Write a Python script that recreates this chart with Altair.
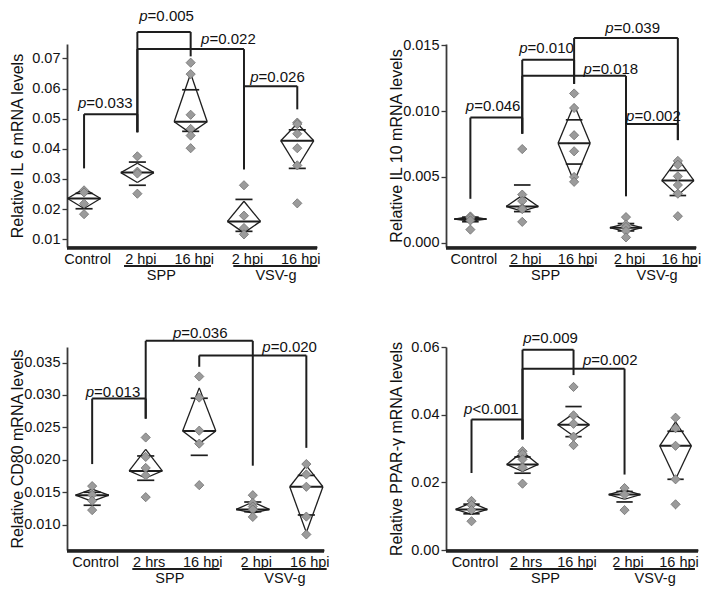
import altair as alt
import pandas as pd

FONT = "Liberation Sans"
LINE = "#1e1e1e"
AXIS = "#3a3a3a"

# ---------------- shared labels ----------------
cats_hpi = ["Control", "2 hpi", "16 hpi", "2 hpi", "16 hpi"]
cats_hrs = ["Control", "2 hrs", "16 hpi", "2 hpi", "16 hpi"]
group_names = ["SPP", "VSV-g"]
group_start = [1.75, 3.80]
group_end = [3.38, 5.38]
group_center = [2.45, 4.60]

# ---------------- IL 6 ----------------
il6_points = [
    [0.0262, 0.0255, 0.0218, 0.0183],
    [0.0375, 0.0324, 0.0318, 0.0251],
    [0.0686, 0.0648, 0.0513, 0.0466, 0.0444, 0.0402],
    [0.0279, 0.0178, 0.0137, 0.0116],
    [0.0487, 0.0482, 0.0450, 0.0402, 0.0345, 0.0219],
]
il6_top = [0.0268, 0.0352, 0.0650, 0.0226, 0.0484]
il6_mean = [0.0235, 0.0321, 0.0490, 0.0159, 0.0427]
il6_bottom = [0.0202, 0.0288, 0.0452, 0.0121, 0.0338]
il6_err_hi = [0.0252, 0.0356, 0.0596, 0.0232, 0.0463]
il6_err_lo = [0.0201, 0.0279, 0.0458, 0.0126, 0.0335]
# label, x1, x2, bar level, leg1 low, leg2 low, text x, text y
il6_brackets = [
    ("p=0.033", 1, 2, 0.0515, 0.0335, 0.0455, 1.38, 0.0553),
    ("p=0.005", 2, 3, 0.0788, 0.0455, 0.0707, 2.53, 0.0842),
    ("p=0.022", 2, 4, 0.0731, 0.0455, 0.0332, 3.69, 0.0765),
    ("p=0.026", 4, 5, 0.0608, 0.0332, 0.0531, 4.61, 0.0640),
]

# ---------------- IL 10 ----------------
il10_points = [
    [0.0020, 0.0019, 0.0017, 0.0010],
    [0.00712, 0.00366, 0.00317, 0.00262, 0.00256, 0.00159],
    [0.01134, 0.01024, 0.00817, 0.00695, 0.00500, 0.00463],
    [0.00195, 0.00139, 0.00120, 0.00090, 0.00041],
    [0.00622, 0.00593, 0.00505, 0.00439, 0.00373, 0.00202],
]
il10_top = [0.00200, 0.00360, 0.01050, 0.00146, 0.00640]
il10_mean = [0.00180, 0.00276, 0.00756, 0.00115, 0.00473]
il10_bottom = [0.00165, 0.00240, 0.00463, 0.00085, 0.00360]
il10_err_hi = [0.00195, 0.00439, 0.00934, 0.00146, 0.00549]
il10_err_lo = [0.00160, 0.00237, 0.00598, 0.00090, 0.00359]
il10_brackets = [
    ("p=0.046", 1, 2, 0.00951, 0.00334, 0.00829, 1.42, 0.01037),
    ("p=0.010", 2, 3, 0.01390, 0.00829, 0.01207, 2.45, 0.01476),
    ("p=0.018", 2, 4, 0.01268, 0.00829, 0.00354, 3.69, 0.01322),
    ("p=0.039", 3, 5, 0.01556, 0.01207, 0.00780, 4.11, 0.01634),
    ("p=0.002", 4, 5, 0.00902, 0.00354, 0.00780, 4.51, 0.00963),
]

# ---------------- CD80 ----------------
cd80_points = [
    [0.01595, 0.01460, 0.01370, 0.01225],
    [0.02345, 0.02045, 0.01875, 0.01760, 0.01425],
    [0.03285, 0.02960, 0.02450, 0.02250, 0.01610],
    [0.01455, 0.01335, 0.01280, 0.01235, 0.01120],
    [0.01935, 0.01775, 0.01585, 0.01125, 0.00850],
]
cd80_top = [0.01550, 0.02160, 0.03110, 0.01350, 0.01910]
cd80_mean = [0.01455, 0.01830, 0.02445, 0.01235, 0.01585]
cd80_bottom = [0.01360, 0.01720, 0.02250, 0.01180, 0.00880]
cd80_err_hi = [0.01500, 0.02060, 0.02950, 0.01350, 0.01760]
cd80_err_lo = [0.01300, 0.01685, 0.02070, 0.01200, 0.01150]
cd80_brackets = [
    ("p=0.013", 1, 2, 0.02945, 0.01935, 0.02635, 1.37, 0.03050),
    ("p=0.036", 2, 4, 0.03835, 0.02635, 0.01910, 3.00, 0.03960),
    ("p=0.020", 3, 5, 0.03610, 0.03435, 0.02185, 4.67, 0.03735),
]

# ---------------- PPAR-γ ----------------
ppar_points = [
    [0.0145, 0.0133, 0.0118, 0.0085],
    [0.0292, 0.0284, 0.0268, 0.0244, 0.0196],
    [0.0482, 0.0398, 0.0373, 0.0335, 0.0310],
    [0.0183, 0.0164, 0.0118],
    [0.0391, 0.0360, 0.0308, 0.0209, 0.0135],
]
ppar_top = [0.0140, 0.0290, 0.0403, 0.0178, 0.0379]
ppar_mean = [0.0120, 0.0253, 0.0370, 0.0164, 0.0308]
ppar_bottom = [0.0105, 0.0232, 0.0337, 0.0150, 0.0209]
ppar_err_hi = [0.01355, 0.0275, 0.0424, 0.0173, 0.0351]
ppar_err_lo = [0.0107, 0.0227, 0.0335, 0.0142, 0.0209]
ppar_brackets = [
    ("p<0.001", 1, 2, 0.0386, 0.02275, 0.0327, 1.37, 0.0417),
    ("p=0.009", 2, 3, 0.0592, 0.0327, 0.0517, 2.53, 0.0626),
    ("p=0.002", 2, 4, 0.0536, 0.0327, 0.0223, 3.70, 0.0561),
]

KITE_W = 0.31
CAP_W = 0.16


def make_panel(points, top, mean, bottom, err_hi, err_lo, brackets, cats,
               ytitle, ydomain, yticks, yfmt, xdomain, width, height):
    xs = alt.Scale(domain=xdomain, nice=False, zero=False)
    ys = alt.Scale(domain=ydomain, nice=False, zero=False)
    label_expr = "[" + ",".join(["''"] + ["'%s'" % c for c in cats]) + "][datum.value]"
    xaxis = alt.Axis(values=[1, 2, 3, 4, 5], labelExpr=label_expr, ticks=False,
                     domain=True, grid=False, labelFontSize=14.5, labelPadding=5,
                     labelOffset=3, domainColor=AXIS, domainWidth=1.8,
                     labelColor="#111")
    yaxis = alt.Axis(values=yticks, format=yfmt, grid=False, tickSize=5,
                     tickWidth=1.3, tickColor=AXIS, domain=True, domainColor=AXIS,
                     domainWidth=1.8, labelFontSize=14.5, labelPadding=2,
                     labelColor="#111", title=ytitle, titleFontSize=16,
                     titleFontWeight="normal", titleX=-42, titleColor="#111")

    def X(f):
        return alt.X(f + ":Q", scale=xs, axis=xaxis, title=None)

    def Y(f):
        return alt.Y(f + ":Q", scale=ys, axis=yaxis)

    pts = pd.DataFrame([{"x": i + 1, "v": v} for i, grp in enumerate(points) for v in grp])

    kite_rows, mean_rows, cap_rows, br_rows, txt_rows = [], [], [], [], []
    for i in range(5):
        x = i + 1
        t, m, b = top[i], mean[i], bottom[i]
        kite_rows += [
            {"x0": x - KITE_W, "x1": x, "y0": m, "y1": t},
            {"x0": x, "x1": x + KITE_W, "y0": t, "y1": m},
            {"x0": x + KITE_W, "x1": x, "y0": m, "y1": b},
            {"x0": x, "x1": x - KITE_W, "y0": b, "y1": m},
        ]
        mean_rows.append({"x0": x - KITE_W, "x1": x + KITE_W, "y0": m, "y1": m})
        cap_rows.append({"x0": x - CAP_W, "x1": x + CAP_W, "y0": err_hi[i], "y1": err_hi[i]})
        cap_rows.append({"x0": x - CAP_W, "x1": x + CAP_W, "y0": err_lo[i], "y1": err_lo[i]})
    for lab, x1, x2, h, l1, l2, tx, ty in brackets:
        br_rows += [
            {"x0": x1, "x1": x2, "y0": h, "y1": h},
            {"x0": x1, "x1": x1, "y0": l1, "y1": h},
            {"x0": x2, "x1": x2, "y0": l2, "y1": h},
        ]
        txt_rows.append({"tx": tx, "ty": ty, "p": lab[0], "rest": lab[1:]})

    def seg_layer(rows, sw):
        return alt.Chart(pd.DataFrame(rows)).mark_rule(color=LINE, strokeWidth=sw).encode(
            x=X("x0"), x2="x1", y=Y("y0"), y2="y1")

    kite = seg_layer(kite_rows, 1.3)
    means = seg_layer(mean_rows, 2.0)
    caps = seg_layer(cap_rows, 1.7)
    brs = seg_layer(br_rows, 2.0)

    # bottom axis line drawn just under the plot area
    base = alt.Chart(pd.DataFrame({"a": [xdomain[0]], "b": [xdomain[1]]})).mark_rule(
        color="#222222", strokeWidth=3.5).encode(x=X("a"), x2="b", y=alt.value(height + 1))

    dots = alt.Chart(pts).mark_point(shape="diamond", filled=True, size=85,
                                     fill="#9b9b9b", stroke="#707070",
                                     strokeWidth=0.8, opacity=1).encode(
        x=X("x"), y=Y("v"))

    tdf = pd.DataFrame(txt_rows)
    ptxt = alt.Chart(tdf).mark_text(font=FONT, fontSize=15, fontStyle="italic",
                                    align="right", baseline="middle", dx=-18,
                                    color="#111").encode(x=X("tx"), y=Y("ty"), text="p:N")
    rtxt = alt.Chart(tdf).mark_text(font=FONT, fontSize=15, align="left",
                                    baseline="middle", dx=-18,
                                    color="#111").encode(x=X("tx"), y=Y("ty"), text="rest:N")

    gdf = pd.DataFrame({"gs": group_start, "ge": group_end,
                        "gc": group_center, "name": group_names})
    gline = alt.Chart(gdf).mark_rule(color=LINE, strokeWidth=2).encode(
        x=X("gs"), x2="ge", y=alt.value(height + 19))
    gtext = alt.Chart(gdf).mark_text(font=FONT, fontSize=14.5, baseline="middle",
                                     color="#111").encode(
        x=X("gc"), y=alt.value(height + 29), text="name:N")

    return alt.layer(kite, means, caps, brs, dots, ptxt, rtxt, gline, gtext, base).properties(
        width=width, height=height)


H = 203
p1 = make_panel(il6_points, il6_top, il6_mean, il6_bottom, il6_err_hi, il6_err_lo,
                il6_brackets, cats_hpi, "Relative IL 6 mRNA levels",
                [0.0074, 0.0748], [0.01, 0.02, 0.03, 0.04, 0.05, 0.06, 0.07], ".2f",
                [0.68, 5.37], 250, H)
p2 = make_panel(il10_points, il10_top, il10_mean, il10_bottom, il10_err_hi, il10_err_lo,
                il10_brackets, cats_hpi, "Relative IL 10 mRNA levels",
                [-0.00032, 0.0151], [0.0, 0.005, 0.010, 0.015], ".3f",
                [0.53, 5.35], 250, H)
p3 = make_panel(cd80_points, cd80_top, cd80_mean, cd80_bottom, cd80_err_hi, cd80_err_lo,
                cd80_brackets, cats_hrs, "Relative CD80 mRNA levels",
                [0.0061, 0.0374], [0.010, 0.015, 0.020, 0.025, 0.030, 0.035], ".3f",
                [0.53, 5.33], 257, H)
p4 = make_panel(ppar_points, ppar_top, ppar_mean, ppar_bottom, ppar_err_hi, ppar_err_lo,
                ppar_brackets, cats_hrs, "Relative PPAR-\u03b3 mRNA levels",
                [0.0, 0.06], [0.0, 0.02, 0.04, 0.06], ".2f",
                [0.50, 5.44], 252, H)

chart = alt.concat(p1, p2, p3, p4, columns=2,
                   spacing={"row": 100, "column": 122}).properties(
    bounds="flush", align="each", padding=0
).configure_view(stroke=None).configure_axis(
    labelFont=FONT, titleFont=FONT
).configure_text(font=FONT)

chart.save("out.html", embed_options={"renderer": "svg", "actions": False})
